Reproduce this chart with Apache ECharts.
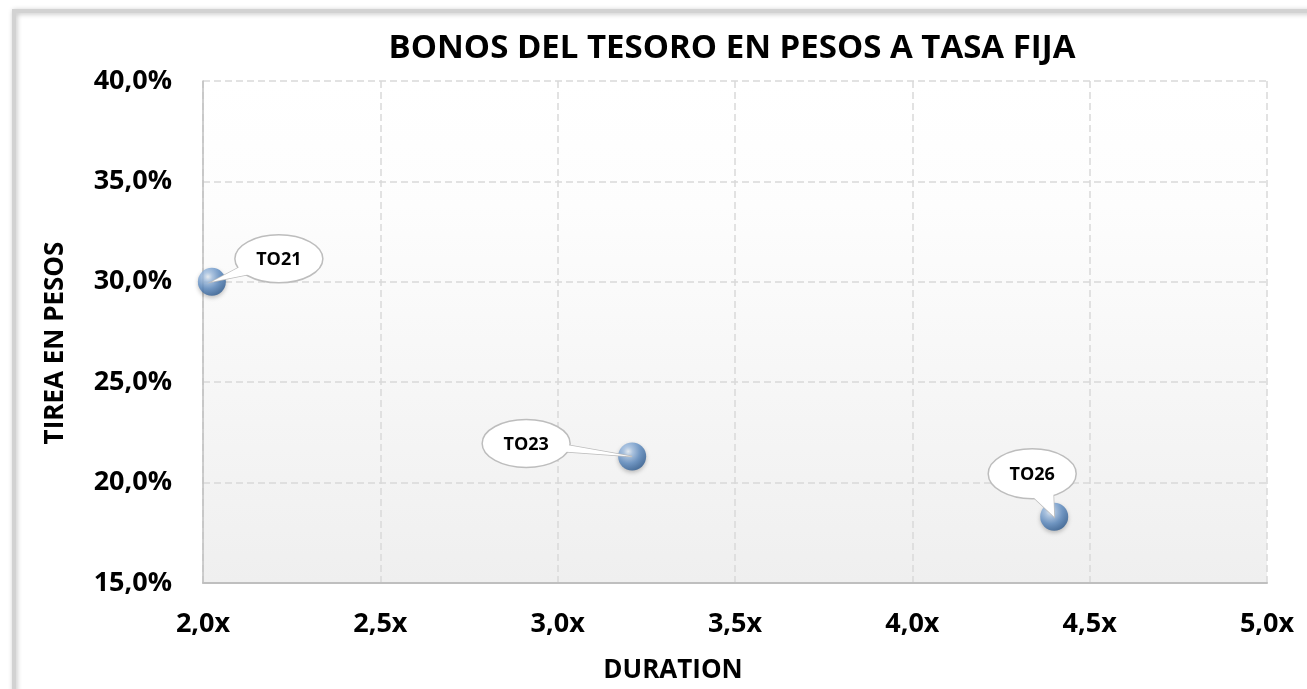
<!DOCTYPE html>
<html>
<head>
<meta charset="utf-8">
<script src="https://cdn.jsdelivr.net/npm/echarts@6/dist/echarts.min.js"></script>
<style>
html,body{margin:0;padding:0;background:#fff;}
#chart{width:1307px;height:689px;}
</style>
</head>
<body>
<div id="chart"></div>
<script>
// ---- data ----
const bondNames = ['TO21', 'TO23', 'TO26'];
const durations = [2.025, 3.21, 4.40];
const yields = [30.0, 21.3, 18.3];
const xTickLabels = ['2,0x', '2,5x', '3,0x', '3,5x', '4,0x', '4,5x', '5,0x'];
const yTickLabels = ['15,0%', '20,0%', '25,0%', '30,0%', '35,0%', '40,0%'];
const chartTitle = 'BONOS DEL TESORO EN PESOS A TASA FIJA';
const xTitle = 'DURATION';
const yTitle = 'TIREA EN PESOS';

// ---- styling (callout placement relative to marker, in px) ----
const calloutStyle = {
  TO21: { dx: 67, dy: -23, rx: 44, ry: 24, spread: 0.22 },
  TO23: { dx: -106, dy: -13, rx: 44, ry: 24, spread: 0.16 },
  TO26: { dx: -22, dy: -43, rx: 44, ry: 25, spread: 0.28 }
};
const FONT = '"Open Sans", Lato, sans-serif';

const points = bondNames.map((n, i) => [durations[i], yields[i], n]);

const chart = echarts.init(document.getElementById('chart'));

const sphere = {
  type: 'radial', x: 0.36, y: 0.32, r: 0.72,
  colorStops: [
    { offset: 0, color: '#eef5fc' },
    { offset: 0.22, color: '#a9c6e8' },
    { offset: 0.6, color: '#5d8cc3' },
    { offset: 1, color: '#2d5b91' }
  ]
};

function renderCallout(params, api) {
  const p = api.coord([api.value(0), api.value(1)]);
  const name = bondNames[params.dataIndex];
  const s = calloutStyle[name];
  const cx = p[0] + s.dx, cy = p[1] + s.dy;
  const t0 = Math.atan2((p[1] - cy) / s.ry, (p[0] - cx) / s.rx);
  const k = 0.9;
  const b1 = [cx + k * s.rx * Math.cos(t0 - s.spread), cy + k * s.ry * Math.sin(t0 - s.spread)];
  const b2 = [cx + k * s.rx * Math.cos(t0 + s.spread), cy + k * s.ry * Math.sin(t0 + s.spread)];
  const tail = [b1, p, b2];
  return {
    type: 'group',
    children: [
      { type: 'polygon', shape: { points: tail }, style: { fill: '#fff', stroke: '#bdbdbd', lineWidth: 1.5 } },
      { type: 'ellipse', shape: { cx: cx, cy: cy, rx: s.rx, ry: s.ry }, style: { fill: '#fff', stroke: '#bdbdbd', lineWidth: 1.5 } },
      { type: 'polygon', shape: { points: tail }, style: { fill: '#fff', stroke: null } },
      { type: 'text', style: { text: name, x: cx, y: cy + 1, align: 'center', verticalAlign: 'middle', font: 'bold 18px ' + FONT, fill: '#000' } }
    ]
  };
}

chart.setOption({
  animation: false,
  backgroundColor: '#fff',
  textStyle: { fontFamily: FONT },
  graphic: [{
    type: 'rect', z: -10, silent: true,
    shape: { x: 14, y: 11, width: 1400, height: 800 },
    style: { fill: null, stroke: '#d2d2d2', lineWidth: 4, shadowBlur: 5, shadowColor: 'rgba(0,0,0,0.25)', shadowOffsetX: 1, shadowOffsetY: 1 }
  }],
  title: {
    text: chartTitle, left: 727, top: 27, textAlign: 'center',
    textStyle: { fontFamily: FONT, fontWeight: 'bold', fontSize: 33, color: '#000' }
  },
  grid: {
    left: 203, top: 81, width: 1064, height: 502, show: true, borderWidth: 0,
    backgroundColor: {
      type: 'linear', x: 0, y: 0, x2: 0, y2: 1,
      colorStops: [
        { offset: 0, color: '#ffffff' },
        { offset: 0.25, color: '#fdfdfd' },
        { offset: 1, color: '#efefef' }
      ]
    }
  },
  xAxis: {
    type: 'value', min: 2, max: 5, interval: 0.5,
    name: xTitle, nameLocation: 'middle', nameGap: 75,
    nameTextStyle: { fontFamily: FONT, fontWeight: 'bold', fontSize: 26, color: '#000', padding: [0, 124, 0, 0] },
    axisLine: { show: true, lineStyle: { color: '#bfbfbf', width: 2 } },
    axisTick: { show: false },
    axisLabel: { margin: 28, fontFamily: FONT, fontWeight: 'bold', fontSize: 27, color: '#000',
      formatter: (v, i) => xTickLabels[i] },
    splitLine: { show: true, lineStyle: { color: '#d9d9d9', width: 1.5, type: [7, 4] } }
  },
  yAxis: {
    type: 'value', min: 15, max: 40, interval: 5,
    name: yTitle, nameLocation: 'middle', nameGap: 134,
    nameTextStyle: { fontFamily: FONT, fontWeight: 'bold', fontSize: 26, color: '#000', padding: [0, 22, 0, 0] },
    axisLine: { show: true, lineStyle: { color: '#bfbfbf', width: 1.5 } },
    axisTick: { show: false },
    axisLabel: { margin: 31, fontFamily: FONT, fontWeight: 'bold', fontSize: 27, color: '#000',
      formatter: (v, i) => yTickLabels[i] },
    splitLine: { show: true, lineStyle: { color: '#d9d9d9', width: 1.5, type: [7, 4] } }
  },
  series: [
    {
      type: 'scatter', z: 2, data: points, symbolSize: 28,
      itemStyle: { color: sphere, shadowBlur: 4, shadowColor: 'rgba(0,0,0,0.3)', shadowOffsetY: 2 }
    },
    {
      type: 'custom', z: 3, data: points, renderItem: renderCallout,
      encode: { x: 0, y: 1 }
    }
  ]
});
</script>
</body>
</html>
